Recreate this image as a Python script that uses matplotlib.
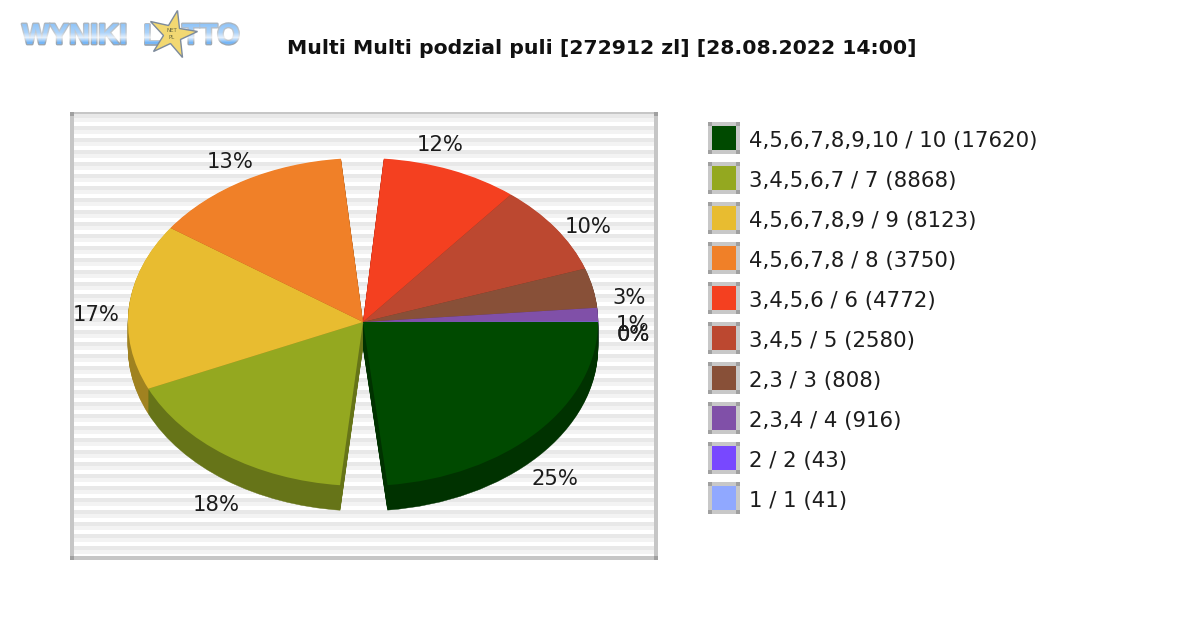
#!/usr/bin/env python3
"""Multi Multi prize pool split, tilted pie with a cut in two places"""

import matplotlib
matplotlib.use('Agg')
import matplotlib.pyplot as plt
import matplotlib.patheffects as pe
import numpy as np
from matplotlib.markers import MarkerStyle
from matplotlib.patches import Rectangle, Wedge
from matplotlib.transforms import Affine2D

TITLE = 'Multi Multi podzial puli [272912 zl] [28.08.2022 14:00]'

legend_labels = ['4,5,6,7,8,9,10 / 10 (17620)', '3,4,5,6,7 / 7 (8868)', '4,5,6,7,8,9 / 9 (8123)',
                 '4,5,6,7,8 / 8 (3750)', '3,4,5,6 / 6 (4772)', '3,4,5 / 5 (2580)',
                 '2,3 / 3 (808)', '2,3,4 / 4 (916)', '2 / 2 (43)', '1 / 1 (41)']
pct_labels = ['25%', '18%', '17%', '13%', '12%', '10%', '3%', '1%', '0%', '0%']

# sweep of each slice in degrees, clockwise from east
sweeps = [84, 60.4, 59, 49.6, 33.9, 32, 14, 4.8, 0.1, 0.1]
gaps_after = [11.6, 0, 0, 10.5, 0, 0, 0, 0, 0, 0]

top_colors = ['#004a00', '#94a820', '#e8bc30', '#f08028', '#f44020',
              '#bc4830', '#885038', '#8050a8', '#7848ff', '#90a8ff']
side_colors = ['#003200', '#667418', '#a08220', '#a85a1c', '#aa2c16',
               '#843220', '#5e3826', '#583874', '#5432b2', '#6474b2']

# text anchor points in figure pixels
pct_x = [555, 216, 96, 230, 440, 588, 629, 632, 633, 633]
pct_y = [479, 505, 315, 162, 145, 227, 298, 325, 335, 335]

W, H = 1200, 630
CX, CY, RX, RY, DEPTH = 363, 322, 235, 164, 25
PLOT_L, PLOT_T, PLOT_R, PLOT_B = 70, 112, 658, 560
FRAME = '#c6c6c6'
CORNER = '#a0a0a0'

fig = plt.figure(figsize=(W / 100, H / 100), dpi=100, facecolor='white')

# page axes in pixels, for logo, title and legend
page = fig.add_axes([0, 0, 1, 1])
page.axis('off')
plot_w = PLOT_R - PLOT_L
plot_h = PLOT_B - PLOT_T

# striped plot background and frame
for y in range(PLOT_T + 2, PLOT_B - 4, 12):
    page.add_patch(Rectangle((PLOT_L, y), plot_w, 4, fc='#e8e8e8', ec='none', zorder=1))
    page.add_patch(Rectangle((PLOT_L, y + 4), plot_w, 4, fc='#f3f3f3', ec='none', zorder=1))
page.add_patch(Rectangle((PLOT_L, PLOT_T), 4, plot_h, fc=FRAME, ec='none', zorder=2))
page.add_patch(Rectangle((PLOT_R - 4, PLOT_T), 4, plot_h, fc=FRAME, ec='none', zorder=2))
page.add_patch(Rectangle((PLOT_L, PLOT_T), plot_w, 2, fc=FRAME, ec='none', zorder=2))
page.add_patch(Rectangle((PLOT_L, PLOT_B - 4), plot_w, 4, fc=FRAME, ec='none', zorder=2))
for cx, cy in [(PLOT_L, PLOT_T), (PLOT_R - 4, PLOT_T), (PLOT_L, PLOT_B - 4), (PLOT_R - 4, PLOT_B - 4)]:
    page.add_patch(Rectangle((cx, cy), 4, 4, fc=CORNER, ec='none', zorder=3))

# pie axes, one data unit is the pie radius along each direction
pie = fig.add_axes([PLOT_L / W, 1 - PLOT_B / H, plot_w / W, plot_h / H])
pie.set_xlim((PLOT_L - CX) / RX, (PLOT_R - CX) / RX)
pie.set_ylim((CY - PLOT_B) / RY, (CY - PLOT_T) / RY)
pie.axis('off')

starts = np.concatenate([[0], np.cumsum(np.array(sweeps) + np.array(gaps_after))[:-1]])

# side of the disc, drawn as a stack of darker copies
for d in range(DEPTH, 0, -1):
    for start, sweep, color in zip(starts, sweeps, side_colors):
        pie.add_patch(Wedge((0, -d / RY), 1, -start - sweep, -start, fc=color, ec=color, lw=0.3))

for start, sweep, color in zip(starts, sweeps, top_colors):
    pie.add_patch(Wedge((0, 0), 1, -start - sweep, -start, fc=color, ec='none'))

text_color = '#1c1c1c'
for x, y, label in zip(pct_x, pct_y, pct_labels):
    fig.text(x / W, 1 - y / H, label, fontsize=15.2, color=text_color, ha='center', va='center')

# legend
for i, (label, color) in enumerate(zip(legend_labels, top_colors)):
    y = 122 + 40 * i
    page.add_patch(Rectangle((708, y), 32, 32, fc='#c8c8c8', ec='none', zorder=3))
    for cx, cy in [(708, y), (736, y), (708, y + 28), (736, y + 28)]:
        page.add_patch(Rectangle((cx, cy), 4, 4, fc=CORNER, ec='none', zorder=4))
    page.add_patch(Rectangle((712, y + 4), 24, 24, fc=color, ec='none', zorder=4))
    page.text(749, y + 19, label, fontsize=15.3, color=text_color, va='center', ha='left')

page.text(287, 48, TITLE, fontsize=14.65, fontweight='bold', color='#111111', va='center', ha='left')

# logo
logo_style = dict(family='Liberation Sans', fontsize=21, fontweight='bold',
                  color='#76b6f6', va='center', zorder=5,
                  path_effects=[pe.withStroke(linewidth=2, foreground='#9aa6b2')])
page.text(22, 36, 'WYNIKI', ha='left', **logo_style)
page.text(143, 36, 'L', ha='left', **logo_style)
page.text(240, 36, 'TTO', ha='right', **logo_style)
fade = np.zeros((28, 1, 4))
fade[..., :3] = 1.0
fade[:, 0, 3] = np.interp(np.arange(28), [0, 10, 15, 20, 27], [0.15, 0.4, 0.8, 0.0, 0.0])
page.imshow(fade, extent=(18, 244, 50, 22), aspect='auto', zorder=6, interpolation='bilinear')
page.set_xlim(0, W)
page.set_ylim(H, 0)
star = MarkerStyle('*', transform=Affine2D().rotate_deg(-12))
page.plot([172], [34], marker=star, ms=36, mfc='#f2d872', mec='#7c8a9c', mew=1, zorder=7, ls='none')
page.text(172, 34, 'NET\nPL', fontsize=4, color='#6a6a40', ha='center', va='center', zorder=8, linespacing=1.6)

fig.savefig('out.png', dpi=100, facecolor='white')
plt.close(fig)
